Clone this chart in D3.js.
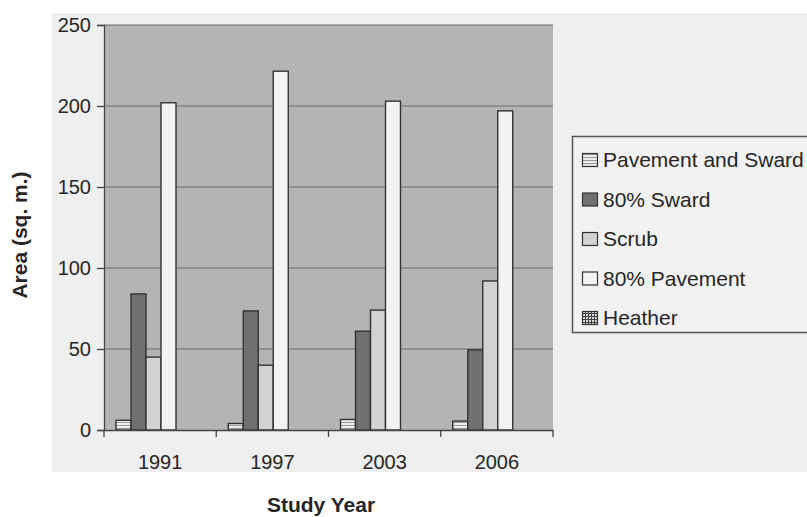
<!DOCTYPE html>
<html>
<head>
<meta charset="utf-8">
<script src="https://cdn.jsdelivr.net/npm/d3@7"></script>
<style>
  html, body { margin: 0; padding: 0; background: #ffffff; }
  svg { display: block; }
  text { font-family: "Liberation Sans", Arial, sans-serif; fill: #262626; }
</style>
</head>
<body>
<svg id="chart" width="807" height="517"></svg>
<script>
// Study years (categories)
const years = ["1991", "1997", "2003", "2006"];

// Series names, in legend order
const seriesNames = ["Pavement and Sward", "80% Sward", "Scrub", "80% Pavement", "Heather"];

// Area (sq. m.) per series, one value per study year
const pavementAndSward = [6, 4, 6.5, 5.5];
const sward80 = [84, 73.5, 61, 49.5];
const scrub = [45, 40, 74, 92];
const pavement80 = [202, 221.5, 203, 197];
const heather = [0, 0, 0, 0];

// Y axis tick values
const yTicks = [0, 50, 100, 150, 200, 250];

const seriesValues = [pavementAndSward, sward80, scrub, pavement80, heather];

const svg = d3.select("#chart");

// layout
const outer = { x: 52, y: 13, w: 807 - 52, h: 472 - 13 };
const plot = { left: 104, right: 553, top: 25, bottom: 430 };
const groupInset = 12;
const barWidth = 15;

// patterns for the hatched series
const defs = svg.append("defs");
const stripes = defs.append("pattern")
  .attr("id", "pat-stripes").attr("patternUnits", "userSpaceOnUse")
  .attr("width", 4).attr("height", 3);
stripes.append("rect").attr("width", 4).attr("height", 3).attr("fill", "#ececec");
stripes.append("rect").attr("y", 2).attr("width", 4).attr("height", 1).attr("fill", "#9a9a9a");

const grid = defs.append("pattern")
  .attr("id", "pat-grid").attr("patternUnits", "userSpaceOnUse")
  .attr("width", 3).attr("height", 3);
grid.append("rect").attr("width", 3).attr("height", 3).attr("fill", "#d8d8d8");
grid.append("rect").attr("width", 3).attr("height", 1).attr("fill", "#444");
grid.append("rect").attr("width", 1).attr("height", 3).attr("fill", "#444");

const fills = {
  "Pavement and Sward": "url(#pat-stripes)",
  "80% Sward": "#707070",
  "Scrub": "#d2d2d2",
  "80% Pavement": "#f3f3f3",
  "Heather": "url(#pat-grid)"
};

// chart background
svg.append("rect")
  .attr("x", outer.x).attr("y", outer.y)
  .attr("width", outer.w).attr("height", outer.h)
  .attr("fill", "#efefef");

// scales
const x0 = d3.scaleBand().domain(years).range([plot.left, plot.right]).padding(0);
const x1 = d3.scaleBand().domain(seriesNames)
  .range([groupInset, groupInset + barWidth * seriesNames.length]).padding(0);
const y = d3.scaleLinear().domain([0, 250]).range([plot.bottom, plot.top]);

// plot area
svg.append("rect")
  .attr("x", plot.left).attr("y", plot.top)
  .attr("width", plot.right - plot.left).attr("height", plot.bottom - plot.top)
  .attr("fill", "#b4b4b4");

// gridlines
svg.append("g").selectAll("line")
  .data(yTicks.filter(d => d > 0))
  .join("line")
  .attr("x1", plot.left).attr("x2", plot.right)
  .attr("y1", d => y(d)).attr("y2", d => y(d))
  .attr("stroke", "#6c6c6c").attr("stroke-width", 1);

// bars
const rows = [];
years.forEach((yr, i) => {
  seriesNames.forEach((s, j) => {
    rows.push({ year: yr, series: s, value: seriesValues[j][i] });
  });
});

svg.append("g").selectAll("rect")
  .data(rows.filter(d => d.value > 0))
  .join("rect")
  .attr("x", d => x0(d.year) + x1(d.series))
  .attr("y", d => y(d.value))
  .attr("width", x1.bandwidth())
  .attr("height", d => y(0) - y(d.value))
  .attr("fill", d => fills[d.series])
  .attr("stroke", "#333")
  .attr("stroke-width", 1.4);

// y axis
const yAxis = svg.append("g")
  .attr("transform", `translate(${plot.left},0)`)
  .call(d3.axisLeft(y).tickValues(yTicks).tickSize(7).tickPadding(6));
yAxis.selectAll("text").style("font-size", "20px").attr("fill", "#262626");
yAxis.selectAll("line, path").attr("stroke", "#444").attr("stroke-width", 1.3);

// x axis: labels centred on groups, ticks on group boundaries
const xAxis = svg.append("g")
  .attr("transform", `translate(0,${plot.bottom})`)
  .call(d3.axisBottom(x0).tickSize(0).tickPadding(25));
xAxis.selectAll("text").style("font-size", "20px").attr("fill", "#262626");
xAxis.select("path").attr("stroke", "#444").attr("stroke-width", 1.3);

const bounds = years.map(d => x0(d)).concat([x0(years[years.length - 1]) + x0.step()]);
svg.append("g").selectAll("line")
  .data(bounds)
  .join("line")
  .attr("x1", d => d).attr("x2", d => d)
  .attr("y1", plot.bottom).attr("y2", plot.bottom + 7)
  .attr("stroke", "#444").attr("stroke-width", 1.3);

// axis titles
svg.append("text")
  .attr("x", 321).attr("y", 512)
  .attr("text-anchor", "middle")
  .style("font-size", "21px").style("font-weight", "bold")
  .attr("fill", "#000")
  .text("Study Year");

svg.append("text")
  .attr("transform", "translate(27,235) rotate(-90)")
  .attr("text-anchor", "middle")
  .style("font-size", "21px").style("font-weight", "bold")
  .attr("fill", "#000")
  .text("Area (sq. m.)");

// legend
const legend = svg.append("g");
legend.append("rect")
  .attr("x", 572.5).attr("y", 136.5)
  .attr("width", 260).attr("height", 196)
  .attr("fill", "#f2f2f2")
  .attr("stroke", "#555").attr("stroke-width", 1.5);

const item = legend.selectAll("g.item")
  .data(seriesNames)
  .join("g")
  .attr("class", "item")
  .attr("transform", (d, i) => `translate(0,${167 + i * 39.5})`);

item.append("rect")
  .attr("x", 582.5).attr("y", -13.5)
  .attr("width", 15).attr("height", 13)
  .attr("fill", d => fills[d])
  .attr("stroke", "#333").attr("stroke-width", 1.2);

item.append("text")
  .attr("x", 603).attr("y", 0)
  .style("font-size", "21px")
  .attr("fill", "#262626")
  .text(d => d);
</script>
</body>
</html>
